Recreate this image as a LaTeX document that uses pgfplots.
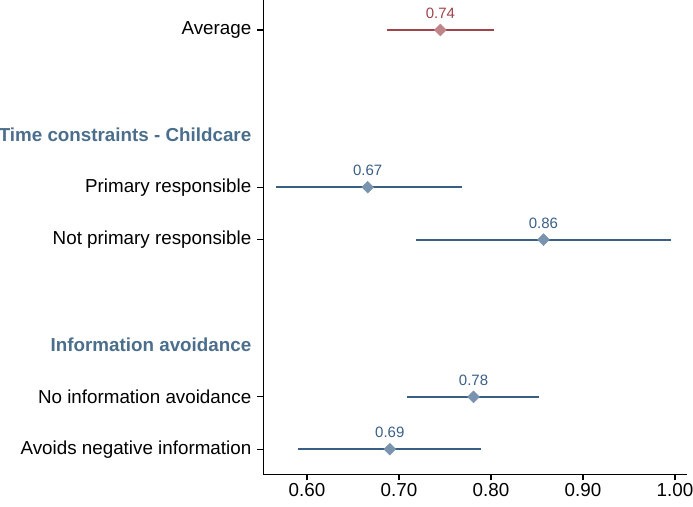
\documentclass[border=0pt]{standalone}
\usepackage{pgfplots}
\pgfplotsset{compat=1.18}
\usepackage{fontspec}
\setmainfont{Liberation Sans}
\definecolor{redline}{HTML}{A0434B}
\definecolor{redmark}{HTML}{C08588}
\definecolor{blueline}{HTML}{3A5F85}
\definecolor{bluemark}{HTML}{7A93AE}
\definecolor{headcol}{HTML}{4B6E8C}
\begin{document}
\begin{tikzpicture}
\useasboundingbox (-263.3pt,-31.7pt) rectangle (429.7pt,474.3pt);
\begin{axis}[
  at={(0,0)}, anchor=south west,
  scale only axis, width=423.4pt, height=474.3pt,
  xmin=0.5525, xmax=1.0127,
  ymin=-0.573, ymax=8.479, y dir=reverse,
  axis x line*=bottom, axis y line*=left,
  axis line style={line width=1.1pt, black},
  tick align=outside,
  major tick length=6pt,
  tick style={line width=1.1pt, black},
  xtick={0.6,0.7,0.8,0.9,1.0},
  xticklabel style={/pgf/number format/.cd, fixed, fixed zerofill, precision=2, assume math mode=true},
  ytick={0,3,4,7,8},
  yticklabels={Average, Primary responsible, Not primary responsible, No information avoidance, Avoids negative information},
  yticklabel style={xshift=-2.5pt},
  extra y ticks={2,6},
  extra y tick labels={\textbf{Time constraints - Childcare}, \textbf{Information avoidance}},
  extra y tick style={major tick style={draw=none}, yticklabel style={text=headcol}},
  ticklabel style={font=\fontsize{18.8}{22}\selectfont},
  every node near coord/.append style={font=\fontsize{15}{18}\selectfont, anchor=south, inner sep=0pt, yshift=11pt},
  clip=false,
]
\addplot[only marks, mark=square*, mark size=4.2pt, mark options={rotate=45, fill=redmark, draw=redmark},
  error bars/.cd, x dir=both, x explicit, error mark=none,
  error bar style={line width=1.8pt, redline}]
  coordinates {(0.745,0) +- (0.0585,0)};
\addplot[only marks, mark=none, nodes near coords, point meta=explicit symbolic,
  every node near coord/.append style={text=redline}]
  coordinates {(0.745,0) [0.74]};
\addplot[only marks, mark=square*, mark size=4.2pt, mark options={rotate=45, fill=bluemark, draw=bluemark},
  error bars/.cd, x dir=both, x explicit, error mark=none,
  error bar style={line width=1.8pt, blueline}]
  table[x=x, y=y, x error plus=ep, x error minus=em] {
  x      y  ep     em
  0.666  3  0.102  0.100
  0.857  4  0.139  0.138
  0.781  7  0.071  0.072
  0.690  8  0.099  0.0995
  };
\addplot[only marks, mark=none, nodes near coords, point meta=explicit symbolic,
  every node near coord/.append style={text=blueline}]
  coordinates {(0.666,3) [0.67] (0.857,4) [0.86] (0.781,7) [0.78] (0.690,8) [0.69]};
\end{axis}
\end{tikzpicture}
\end{document}
